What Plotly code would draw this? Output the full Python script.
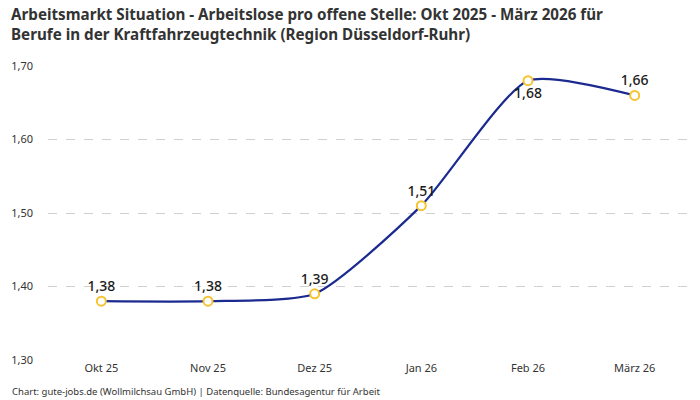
import plotly.graph_objects as go

months = ["Okt 25", "Nov 25", "Dez 25", "Jan 26", "Feb 26", "März 26"]
values = [1.38, 1.38, 1.39, 1.51, 1.68, 1.66]
label_pos = ["top center", "top center", "top center", "top center", "bottom center", "top center"]
y_ticks = [1.30, 1.40, 1.50, 1.60, 1.70]

FONT = "Noto Sans"

fig = go.Figure()
fig.add_trace(go.Scatter(
    x=months,
    y=values,
    mode="lines+markers+text",
    line=dict(color="#1b2a8f", width=2.2, shape="spline", smoothing=0.6),
    marker=dict(size=9, color="white", line=dict(color="#f7c32e", width=2)),
    text=[f"{v:.2f}".replace(".", ",") for v in values],
    textposition=label_pos,
    textfont=dict(family=FONT, size=14, color="#1a1a1a", weight=500),
    cliponaxis=False,
    hoverinfo="skip",
))

fig.update_layout(
    width=700,
    height=400,
    margin=dict(l=48, r=12, t=66, b=40),
    plot_bgcolor="white",
    paper_bgcolor="white",
    separators=",.",
    showlegend=False,
    font=dict(family=FONT, color="#333333"),
)

# title as annotation so both lines sit inside the top margin
fig.add_annotation(
    text="<b>Arbeitsmarkt Situation - Arbeitslose pro offene Stelle: Okt 2025 - März 2026 für<br>Berufe in der Kraftfahrzeugtechnik (Region Düsseldorf-Ruhr)</b>",
    xref="paper", yref="paper",
    x=-0.061, y=1.218,
    xanchor="left", yanchor="top",
    align="left",
    showarrow=False,
    font=dict(family=FONT, size=15.2, color="#333333"),
)

fig.update_xaxes(
    range=[-0.5, 5.5],
    showgrid=False,
    showline=False,
    zeroline=False,
    ticks="",
    tickfont=dict(family=FONT, size=11, color="#333333"),
)

fig.update_yaxes(
    range=[1.30, 1.70],
    tickvals=y_ticks,
    tickformat=".2f",
    showgrid=True,
    gridcolor="#d0d0d0",
    griddash="dash",
    zeroline=False,
    showline=False,
    ticklabelstandoff=14,
    tickfont=dict(family=FONT, size=11, color="#333333"),
)

fig.add_annotation(
    text="Chart: gute-jobs.de (Wollmilchsau GmbH) | Datenquelle: Bundesagentur für Arbeit",
    xref="paper", yref="paper",
    x=-0.06, y=-0.135,
    xanchor="left", yanchor="bottom",
    showarrow=False,
    font=dict(family=FONT, size=9.5, color="#333333"),
)

fig.write_html(
    "out.html",
    config={"displayModeBar": False},
    post_script="document.body.style.margin='0';",
)
